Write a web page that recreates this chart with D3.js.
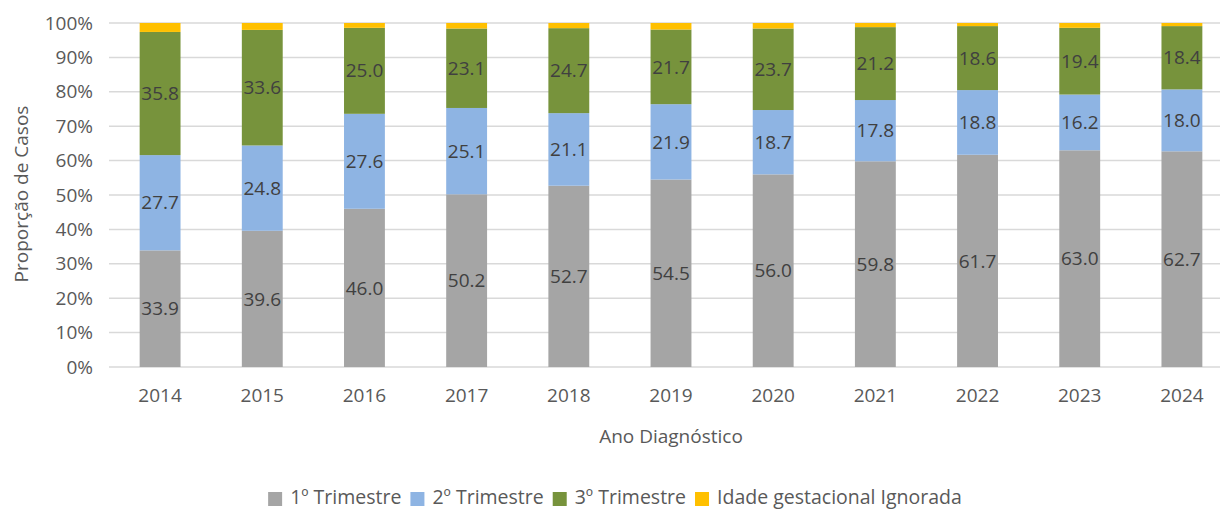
<!DOCTYPE html>
<html>
<head>
<meta charset="utf-8">
<script src="https://cdn.jsdelivr.net/npm/d3@7"></script>
<style>
  body { margin: 0; background: #fff; }
  svg { display: block; font-family: "Open Sans", sans-serif; }
</style>
</head>
<body>
<svg width="1220" height="509"></svg>
<script>
// years on the x axis
let years = ["2014", "2015", "2016", "2017", "2018", "2019", "2020", "2021", "2022", "2023", "2024"];

// proportion of cases (%) per gestational age group
let trim1 = [33.9, 39.6, 46.0, 50.2, 52.7, 54.5, 56.0, 59.8, 61.7, 63.0, 62.7];
let trim2 = [27.7, 24.8, 27.6, 25.1, 21.1, 21.9, 18.7, 17.8, 18.8, 16.2, 18.0];
let trim3 = [35.8, 33.6, 25.0, 23.1, 24.7, 21.7, 23.7, 21.2, 18.6, 19.4, 18.4];
let ignorada = [2.6, 2.0, 1.4, 1.6, 1.5, 1.9, 1.6, 1.2, 0.9, 1.4, 0.9];

let seriesNames = ["1º Trimestre", "2º Trimestre", "3º Trimestre", "Idade gestacional Ignorada"];
let seriesColors = ["#A5A5A5", "#8EB4E3", "#77933C", "#FFC000"];
let yTicks = [0, 10, 20, 30, 40, 50, 60, 70, 80, 90, 100];

let svg = d3.select("svg");

// plot area
let plotLeft = 109, plotRight = 1233, plotTop = 23, plotBottom = 367;

let xScale = d3.scaleBand()
  .domain(years)
  .range([plotLeft, plotRight])
  .paddingInner(0.6)
  .paddingOuter(0.3);

let yScale = d3.scaleLinear()
  .domain([0, 100])
  .range([plotBottom, plotTop]);

// build rows for d3.stack
let keys = ["t1", "t2", "t3", "ig"];
let rows = years.map(function(y, i) {
  return { year: y, t1: trim1[i], t2: trim2[i], t3: trim3[i], ig: ignorada[i] };
});
let stacked = d3.stack().keys(keys)(rows);

// gridlines
svg.append("g")
  .selectAll("line")
  .data(yTicks)
  .enter()
  .append("line")
    .attr("x1", plotLeft)
    .attr("x2", 1220)
    .attr("y1", function(d) { return yScale(d) })
    .attr("y2", function(d) { return yScale(d) })
    .style("stroke", "#D9D9D9")
    .style("stroke-width", 1.5);

// y tick labels
svg.append("g")
  .selectAll("text")
  .data(yTicks)
  .enter()
  .append("text")
    .attr("x", 93)
    .attr("y", function(d) { return yScale(d) })
    .attr("dy", "0.35em")
    .attr("text-anchor", "end")
    .style("font-size", "19px")
    .style("fill", "#595959")
    .text(function(d) { return d + "%" });

// stacked bars
let layers = svg.append("g")
  .selectAll("g")
  .data(stacked)
  .enter()
  .append("g")
    .style("fill", function(d, i) { return seriesColors[i] });

layers.selectAll("rect")
  .data(function(d) { return d })
  .enter()
  .append("rect")
    .attr("x", function(d) { return xScale(d.data.year) })
    .attr("width", xScale.bandwidth())
    .attr("y", function(d) { return yScale(d[1]) })
    .attr("height", function(d) { return yScale(d[0]) - yScale(d[1]) });

// data labels for the first three series
svg.append("g")
  .selectAll("g")
  .data(stacked.slice(0, 3))
  .enter()
  .append("g")
  .selectAll("text")
  .data(function(d) { return d })
  .enter()
  .append("text")
    .attr("x", function(d) { return xScale(d.data.year) + xScale.bandwidth() / 2 })
    .attr("y", function(d) { return yScale((d[0] + d[1]) / 2) })
    .attr("dy", "0.35em")
    .attr("text-anchor", "middle")
    .style("font-size", "19px")
    .style("fill", "#404040")
    .text(function(d) { return (d[1] - d[0]).toFixed(1) });

// x tick labels
svg.append("g")
  .selectAll("text")
  .data(years)
  .enter()
  .append("text")
    .attr("x", function(d) { return xScale(d) + xScale.bandwidth() / 2 })
    .attr("y", 402)
    .attr("text-anchor", "middle")
    .style("font-size", "19px")
    .style("fill", "#595959")
    .text(function(d) { return d });

// axis titles
svg.append("text")
  .attr("x", (plotLeft + plotRight) / 2)
  .attr("y", 443)
  .attr("text-anchor", "middle")
  .style("font-size", "19px")
  .style("fill", "#595959")
  .text("Ano Diagnóstico");

svg.append("text")
  .attr("transform", "translate(28,194) rotate(-90)")
  .attr("text-anchor", "middle")
  .style("font-size", "19px")
  .style("fill", "#595959")
  .text("Proporção de Casos");

// legend, laid out from measured text widths and centred
let legend = svg.append("g");
let items = legend.selectAll("g")
  .data(seriesNames)
  .enter()
  .append("g");

items.append("rect")
  .attr("width", 14)
  .attr("height", 14)
  .attr("y", 492)
  .style("fill", function(d, i) { return seriesColors[i] });

items.append("text")
  .attr("x", 22)
  .attr("y", 504)
  .style("font-size", "19.5px")
  .style("fill", "#595959")
  .text(function(d) { return d });

let offset = 0;
items.each(function() {
  let g = d3.select(this);
  g.attr("transform", "translate(" + offset + ",0)");
  offset += 22 + g.select("text").node().getComputedTextLength() + 9;
});
let legendWidth = offset - 9;
legend.attr("transform", "translate(" + (615 - legendWidth / 2) + ",0)");
</script>
</body>
</html>
